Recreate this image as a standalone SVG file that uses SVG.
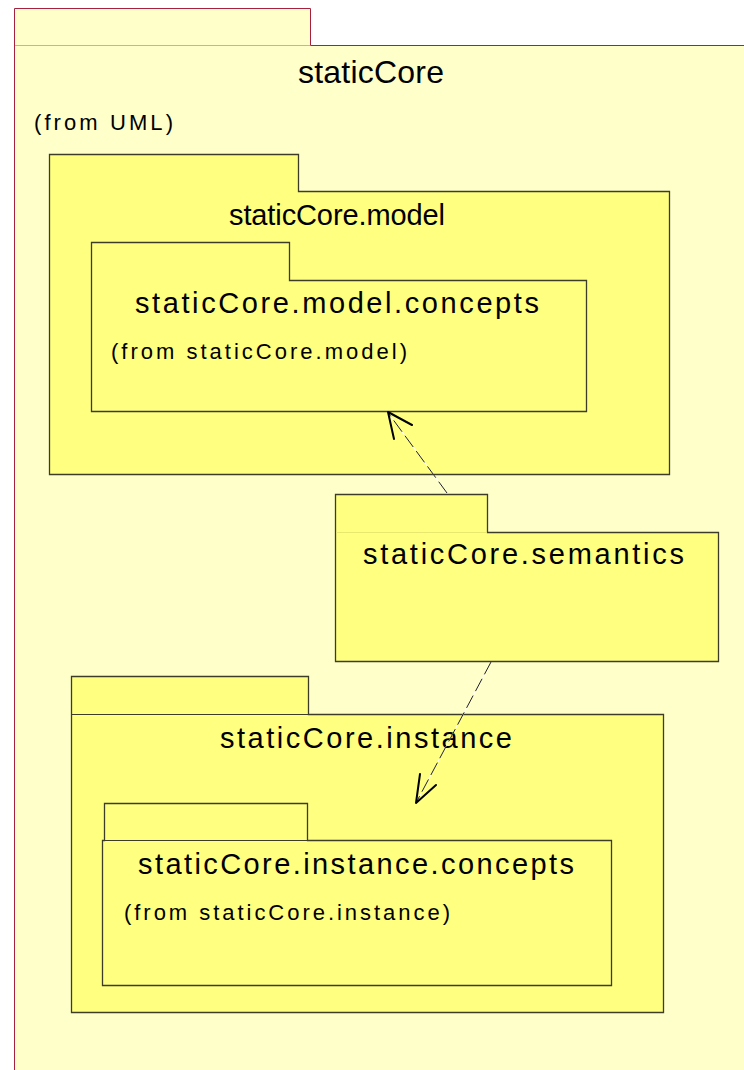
<svg xmlns="http://www.w3.org/2000/svg" width="744" height="1070" viewBox="0 0 744 1070">
  <style>
    .outer { fill: #ffffca; stroke: #a8203f; stroke-width: 1; }
    .pkg { fill: #ffff80; stroke: #3c3c28; stroke-width: 1.3; }
    .sep { stroke: #3c3c28; stroke-width: 1; fill: none; }
    .name { font-family: "Liberation Sans", Arial, sans-serif; fill: #000; }
    .dep { stroke: #202020; stroke-width: 1; fill: none; stroke-dasharray: 14 5; }
    .depbg { stroke: #ffffff; stroke-width: 1; fill: none; }
    .head { stroke: #000; stroke-width: 2; fill: none; stroke-linecap: round; stroke-linejoin: round; }
  </style>

  <!-- enclosing package -->
  <g id="staticCore">
    <path class="outer" d="M14.5,1071 L14.5,8.5 L310.5,8.5 L310.5,45.5 L745,45.5 L745,1071 Z"/>
    <line x1="15" y1="45.5" x2="310" y2="45.5" stroke="#e6a0a8" stroke-width="1"/>
    <text class="name" x="298" y="83" font-size="32" textLength="146" lengthAdjust="spacing">staticCore</text>
    <text class="name" x="34" y="130" font-size="22" textLength="139" lengthAdjust="spacing">(from UML)</text>
  </g>

  <!-- staticCore.model -->
  <g id="model">
    <path class="pkg" d="M49.5,474.5 L49.5,154.5 L298.5,154.5 L298.5,191.5 L669.5,191.5 L669.5,474.5 Z"/>
    <text class="name" x="229" y="225" font-size="29" textLength="216" lengthAdjust="spacing">staticCore.model</text>
  </g>

  <!-- staticCore.model.concepts -->
  <g id="model-concepts">
    <path class="pkg" d="M91.5,411.5 L91.5,242.5 L289.5,242.5 L289.5,280.5 L586.5,280.5 L586.5,411.5 Z"/>
    <text class="name" x="135" y="313" font-size="29" textLength="404" lengthAdjust="spacing">staticCore.model.concepts</text>
    <text class="name" x="111" y="359" font-size="22" textLength="296" lengthAdjust="spacing">(from staticCore.model)</text>
  </g>

  <!-- staticCore.semantics -->
  <g id="semantics">
    <path class="pkg" d="M335.5,661.5 L335.5,494.5 L487.5,494.5 L487.5,532.5 L718.5,532.5 L718.5,661.5 Z"/>
    <line x1="336" y1="532.5" x2="487" y2="532.5" stroke="#e8e870" stroke-width="1"/>
    <text class="name" x="363" y="564" font-size="29" textLength="321" lengthAdjust="spacing">staticCore.semantics</text>
  </g>

  <!-- staticCore.instance -->
  <g id="instance">
    <path class="pkg" d="M71.5,1012.5 L71.5,676.5 L308.5,676.5 L308.5,714.5 L663.5,714.5 L663.5,1012.5 Z"/>
    <line class="sep" x1="71.5" y1="714.5" x2="308.5" y2="714.5"/>
    <text class="name" x="220" y="748" font-size="29" textLength="292" lengthAdjust="spacing">staticCore.instance</text>
  </g>

  <!-- staticCore.instance.concepts -->
  <g id="instance-concepts">
    <path class="pkg" d="M102.5,985.5 L102.5,840.5 L104.5,840.5 L104.5,803.5 L307.5,803.5 L307.5,840.5 L611.5,840.5 L611.5,985.5 Z"/>
    <line class="sep" x1="102.5" y1="840.5" x2="307.5" y2="840.5"/>
    <text class="name" x="138" y="874" font-size="29" textLength="436" lengthAdjust="spacing">staticCore.instance.concepts</text>
    <text class="name" x="124" y="920" font-size="22" textLength="326" lengthAdjust="spacing">(from staticCore.instance)</text>
  </g>

  <!-- dependencies -->
  <g id="connectors">
    <line class="depbg" x1="447" y1="493" x2="389" y2="414"/>
    <line class="dep" x1="447" y1="493" x2="389" y2="414"/>
    <polyline class="head" points="412,425 388,412 394,439"/>

    <line class="depbg" x1="491" y1="662" x2="417" y2="801"/>
    <line class="dep" x1="491" y1="662" x2="417" y2="801"/>
    <polyline class="head" points="420,774 416,803 436,785"/>
  </g>
</svg>
